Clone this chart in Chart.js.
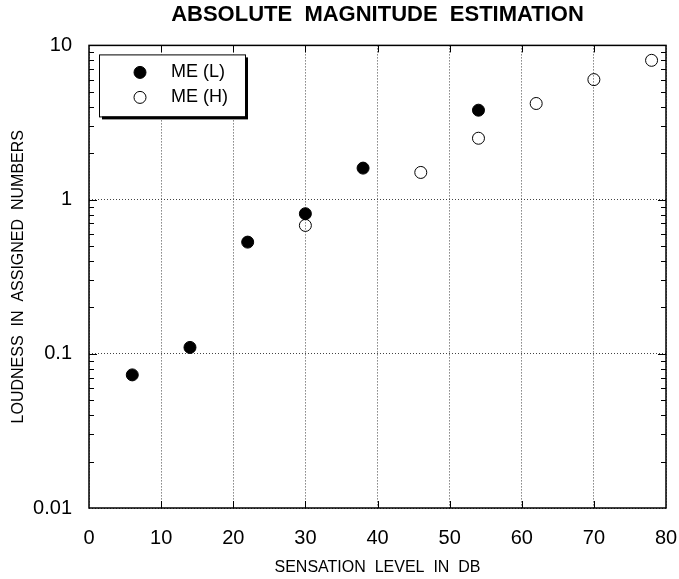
<!DOCTYPE html>
<html>
<head>
<meta charset="utf-8">
<script src="https://cdn.jsdelivr.net/npm/chart.js@4"></script>
<style>
  body { margin: 0; background: #fff; }
  #wrap { width: 679px; height: 579px; }
</style>
</head>
<body>
<div id="wrap"><canvas id="myChart"></canvas></div>
<script>
const levelsL = [6, 14, 22, 30, 38, 54];
const loudL = [0.073, 0.11, 0.53, 0.81, 1.6, 3.8];
const levelsH = [30, 46, 54, 62, 70, 78];
const loudH = [0.68, 1.5, 2.5, 4.2, 6.0, 8.0];
const yTicks = [0.01, 0.1, 1, 10];

const font = 'Liberation Sans, Arial, Helvetica, sans-serif';

// frame, inward ticks and the boxed legend
const decor = {
  id: 'decor',
  beforeDatasetsDraw(chart) {
    const {ctx, chartArea: a, scales: {x, y}} = chart;
    ctx.save();
    ctx.strokeStyle = '#000';
    ctx.lineWidth = 1;
    ctx.beginPath();
    for (let v = 10; v < 80; v += 10) {
      const px = Math.round(x.getPixelForValue(v)) + 0.5;
      ctx.moveTo(px, a.bottom); ctx.lineTo(px, a.bottom - 7);
      ctx.moveTo(px, a.top); ctx.lineTo(px, a.top + 7);
    }
    for (let d = 0.01; d < 10; d *= 10) {
      for (let k = 1; k <= 9; k++) {
        const v = d * k;
        if (v <= 0.01 || v >= 10) continue;
        const py = Math.round(y.getPixelForValue(v)) + 0.5;
        const len = k === 1 ? 8 : 5;
        ctx.moveTo(a.left, py); ctx.lineTo(a.left + len, py);
        ctx.moveTo(a.right, py); ctx.lineTo(a.right - len, py);
      }
    }
    ctx.stroke();
    ctx.lineWidth = 1.5;
    ctx.strokeRect(a.left, a.top, a.right - a.left, a.bottom - a.top);
    ctx.restore();
  },
  afterDraw(chart) {
    const {ctx, chartArea: a} = chart;
    const bx = a.left + 10, by = a.top + 9, bw = 146, bh = 62;
    ctx.save();
    ctx.fillStyle = '#000';
    ctx.fillRect(bx + 3, by + 3, bw, bh);
    ctx.fillStyle = '#fff';
    ctx.fillRect(bx, by, bw, bh);
    ctx.strokeStyle = '#000';
    ctx.lineWidth = 1;
    ctx.strokeRect(bx + 0.5, by + 0.5, bw, bh);
    chart.data.datasets.forEach((ds, i) => {
      const cy = by + 18 + i * 25;
      ctx.beginPath();
      ctx.arc(bx + 41, cy, 6, 0, Math.PI * 2);
      ctx.fillStyle = ds.backgroundColor;
      ctx.fill();
      ctx.lineWidth = 1;
      ctx.strokeStyle = '#000';
      ctx.stroke();
      ctx.fillStyle = '#000';
      ctx.font = '18px ' + font;
      ctx.textBaseline = 'middle';
      ctx.fillText(ds.label, bx + 72, cy);
    });
    ctx.restore();
  }
};

new Chart(document.getElementById('myChart'), {
  type: 'scatter',
  data: {
    datasets: [{
      label: 'ME (L)',
      data: levelsL.map((v, i) => ({x: v, y: loudL[i]})),
      backgroundColor: '#000',
      borderColor: '#000',
      borderWidth: 1,
      pointRadius: 6,
      pointHoverRadius: 6
    }, {
      label: 'ME (H)',
      data: levelsH.map((v, i) => ({x: v, y: loudH[i]})),
      backgroundColor: 'rgba(0,0,0,0)',
      borderColor: '#000',
      borderWidth: 1,
      pointRadius: 6,
      pointHoverRadius: 6
    }]
  },
  options: {
    responsive: true,
    maintainAspectRatio: false,
    animation: false,
    layout: { padding: 0 },
    plugins: {
      legend: { display: false },
      tooltip: { enabled: false },
      title: {
        display: true,
        fullSize: false,
        text: 'ABSOLUTE  MAGNITUDE  ESTIMATION',
        color: '#000',
        font: { family: font, size: 22, weight: 'bold' },
        padding: { top: 2, bottom: 17 }
      }
    },
    scales: {
      x: {
        type: 'linear',
        min: 0,
        max: 80,
        afterFit: s => { s.height = 71; s.paddingLeft = 0; s.paddingRight = 13; },
        ticks: { stepSize: 10, color: '#000', padding: 18, font: { family: font, size: 20 } },
        grid: { color: '#444', lineWidth: 1, drawTicks: false },
        border: { display: false, dash: [1, 2] },
        title: {
          display: true,
          text: 'SENSATION  LEVEL  IN  DB',
          color: '#000',
          font: { family: font, size: 16 },
          padding: { top: 0, bottom: 2 }
        }
      },
      y: {
        type: 'logarithmic',
        min: 0.01,
        max: 10,
        afterFit: s => { s.width = 89; },
        afterBuildTicks: s => { s.ticks = yTicks.map(v => ({value: v})); },
        ticks: { color: '#000', padding: 17, font: { family: font, size: 20 }, callback: v => String(v) },
        grid: { color: '#444', lineWidth: 1, drawTicks: false },
        border: { display: false, dash: [1, 2] },
        title: {
          display: true,
          text: 'LOUDNESS  IN  ASSIGNED  NUMBERS',
          color: '#000',
          font: { family: font, size: 16 },
          padding: { top: 9, bottom: 0 }
        }
      }
    }
  },
  plugins: [decor]
});
</script>
</body>
</html>
